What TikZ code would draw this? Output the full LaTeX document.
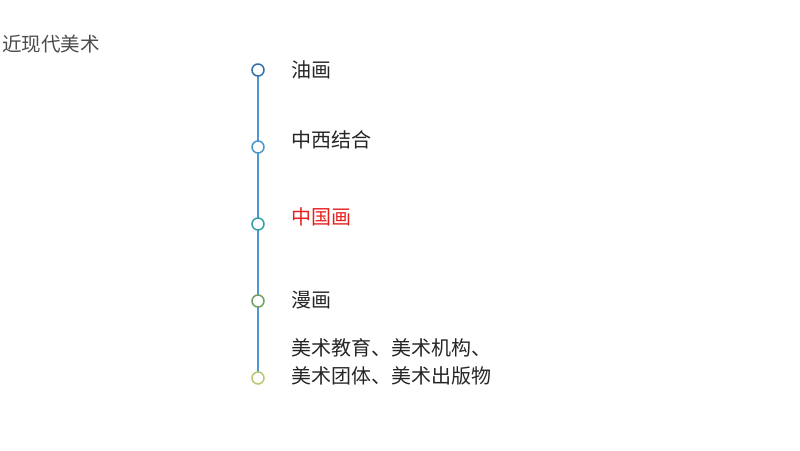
\documentclass[tikz,border=0pt]{standalone}
\usepackage{fontspec}
\newfontfamily\cjk{Noto Sans CJK SC}
\begin{document}
\begin{tikzpicture}[x=1pt,y=-1pt,
  dot/.style={circle,draw,line width=1.5pt,fill=white,minimum size=12pt,inner sep=0pt},
  lbl/.style={anchor=west,font=\cjk\fontsize{20}{28}\selectfont,text=black!85,inner sep=0pt,align=left}]
\useasboundingbox (0,0) rectangle (800,450);
\node[anchor=west,inner sep=0pt,font=\cjk\fontsize{19.5}{24}\selectfont,text=black!70] (t) at (2,44) {近现代美术};
\coordinate (top) at (258,70);
\coordinate (bot) at (258,378);
\draw[color={rgb,255:red,80;green,150;blue,210},line width=1.5pt] (top) -- (bot);
\node[dot,draw={rgb,255:red,50;green,110;blue,170}] (c1) at (258,70) {};
\node[dot,draw={rgb,255:red,70;green,150;blue,200}] (c2) at (258,147) {};
\node[dot,draw={rgb,255:red,50;green,160;blue,170}] (c3) at (258,224) {};
\node[dot,draw={rgb,255:red,110;green,160;blue,100}] (c4) at (258,301) {};
\node[dot,draw={rgb,255:red,180;green,200;blue,110}] (c5) at (258,378) {};
\node[lbl] (l1) at (291,70) {油画};
\node[lbl] (l2) at (291,140) {中西结合};
\node[lbl,text={rgb,255:red,230;green,30;blue,30}] (l3) at (291,217) {中国画};
\node[lbl] (l4) at (291,300) {漫画};
\node[lbl] (l5) at (291,362) {美术教育、美术机构、\\美术团体、美术出版物};
\end{tikzpicture}
\end{document}
